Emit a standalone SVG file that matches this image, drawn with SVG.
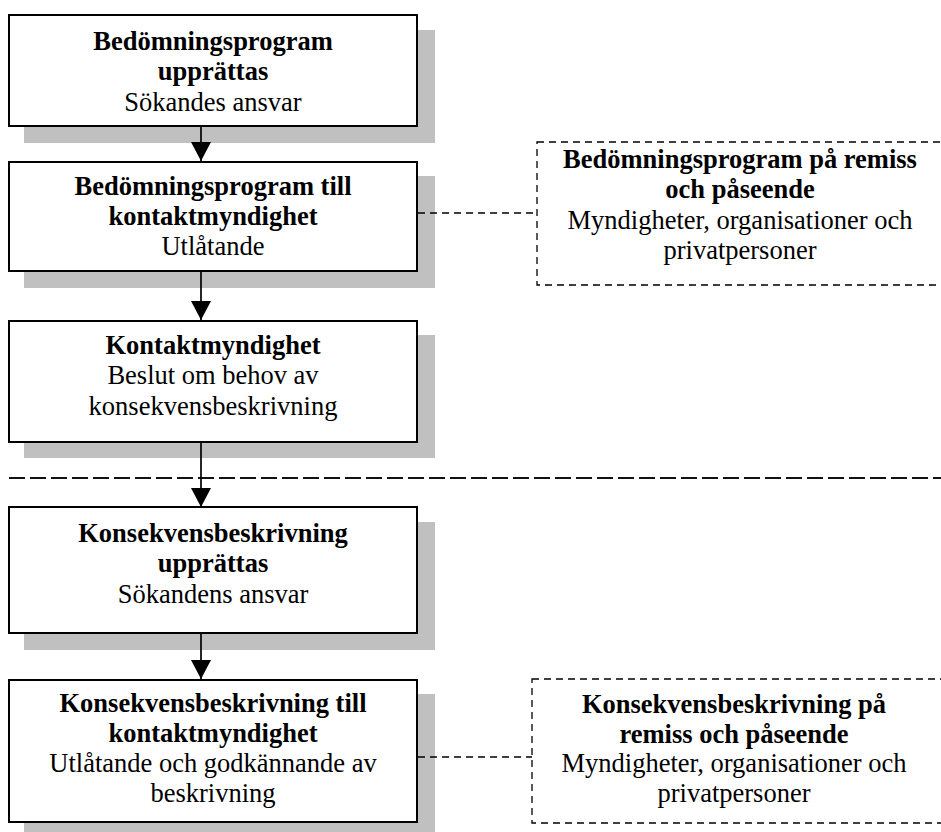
<svg xmlns="http://www.w3.org/2000/svg" width="941" height="832" viewBox="0 0 941 832">
<style>
text{font-family:"Liberation Serif","Times New Roman",serif;font-size:26.5px;fill:#000;text-anchor:middle}
.b{font-weight:bold}
.box{fill:#fff;stroke:#000;stroke-width:2}
.sh{fill:#c0c0c0}
.dbox{fill:#fff;stroke:#000;stroke-width:1.3;stroke-dasharray:7 5}
.arr{stroke:#000;stroke-width:1.7;fill:none}
.dcon{stroke:#000;stroke-width:1.3;stroke-dasharray:7 5;fill:none}
.sep{stroke:#111;stroke-width:2;stroke-dasharray:16 5;fill:none}
</style>
<defs>
<marker id="ah" markerUnits="userSpaceOnUse" markerWidth="19" markerHeight="20" refX="19" refY="10" orient="auto" viewBox="0 0 19 20">
<path d="M0,0 L19,10 L0,20 Z" fill="#000"/>
</marker>
</defs>
<line class="sep" x1="9" y1="478" x2="941" y2="478"/>
<g id="node1">
<rect class="sh" x="24" y="30" width="411" height="113"/>
<rect class="box" x="9" y="15" width="408" height="111"/>
<text class="b" x="213" y="50">Bedömningsprogram</text>
<text class="b" x="213" y="80">upprättas</text>
<text x="213" y="111">Sökandes ansvar</text>
</g>
<g id="node2">
<rect class="sh" x="24" y="176" width="411" height="112"/>
<rect class="box" x="9" y="162" width="408" height="109"/>
<text class="b" x="213" y="195">Bedömningsprogram till</text>
<text class="b" x="213" y="225">kontaktmyndighet</text>
<text x="213" y="255">Utlåtande</text>
</g>
<g id="node3">
<rect class="sh" x="24" y="335" width="411" height="123"/>
<rect class="box" x="9" y="321" width="408" height="121"/>
<text class="b" x="213" y="354">Kontaktmyndighet</text>
<text x="213" y="384">Beslut om behov av</text>
<text x="213" y="415">konsekvensbeskrivning</text>
</g>
<g id="node4">
<rect class="sh" x="24" y="522" width="411" height="128"/>
<rect class="box" x="9" y="507" width="408" height="126"/>
<text class="b" x="213" y="542">Konsekvensbeskrivning</text>
<text class="b" x="213" y="572">upprättas</text>
<text x="213" y="603">Sökandens ansvar</text>
</g>
<g id="node5">
<rect class="sh" x="24" y="694" width="411" height="145"/>
<rect class="box" x="9" y="680" width="408" height="142"/>
<text class="b" x="213" y="712">Konsekvensbeskrivning till</text>
<text class="b" x="213" y="742">kontaktmyndighet</text>
<text x="213" y="772">Utlåtande och godkännande av</text>
<text x="213" y="802">beskrivning</text>
</g>
<g id="remiss1">
<rect class="dbox" x="537" y="142" width="410" height="143"/>
<text class="b" x="740" y="168">Bedömningsprogram på remiss</text>
<text class="b" x="740" y="198">och påseende</text>
<text x="740" y="229">Myndigheter, organisationer och</text>
<text x="740" y="259">privatpersoner</text>
</g>
<g id="remiss2">
<rect class="dbox" x="532" y="679" width="410" height="144"/>
<text class="b" x="734" y="713">Konsekvensbeskrivning på</text>
<text class="b" x="734" y="743">remiss och påseende</text>
<text x="734" y="772">Myndigheter, organisationer och</text>
<text x="734" y="802">privatpersoner</text>
</g>
<g id="connectors">
<line class="arr" x1="201" y1="126" x2="201" y2="161" marker-end="url(#ah)"/>
<line class="arr" x1="201" y1="271" x2="201" y2="320" marker-end="url(#ah)"/>
<line class="arr" x1="201" y1="442" x2="201" y2="507" marker-end="url(#ah)"/>
<line class="arr" x1="201" y1="633" x2="201" y2="679" marker-end="url(#ah)"/>
<line class="dcon" x1="418" y1="213" x2="537" y2="213"/>
<line class="dcon" x1="418" y1="757" x2="532" y2="757"/>
</g>
</svg>
